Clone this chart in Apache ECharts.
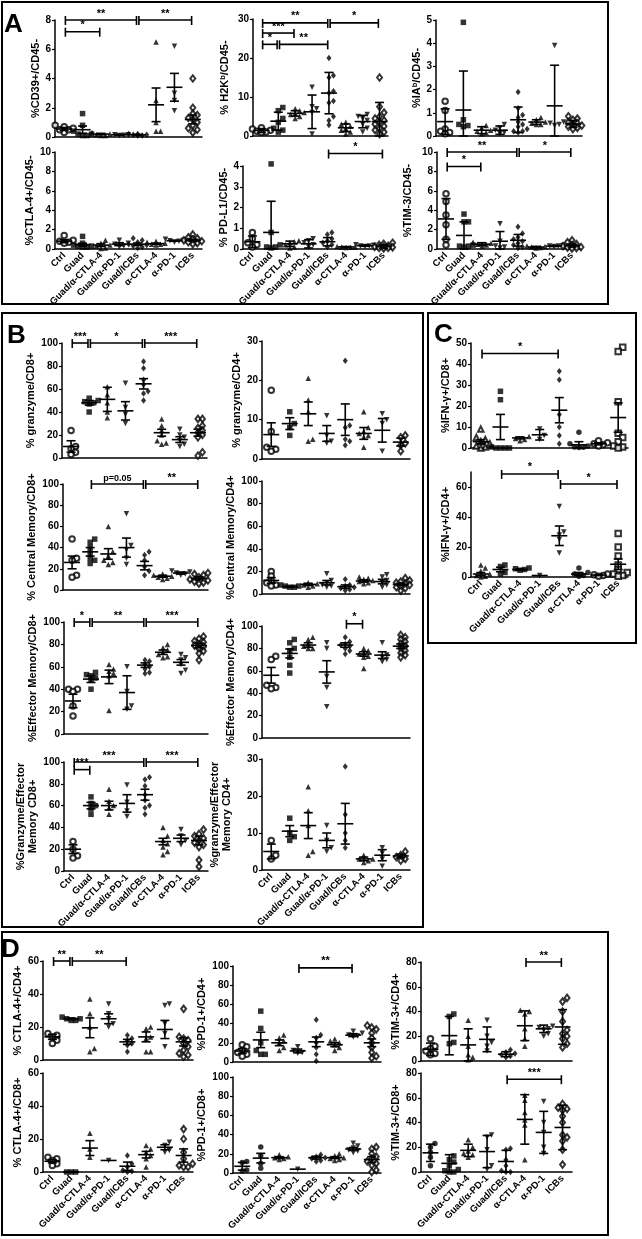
<!DOCTYPE html>
<html lang="en">
<head>
<meta charset="UTF-8" />
<title>Immune profiling</title>
<script src="https://cdn.jsdelivr.net/npm/echarts@6.0.0/dist/echarts.min.js"></script>
<style>html,body{margin:0;background:#fff}</style>
</head>
<body>
<div id="main" style="width:642px;height:1239px"></div>
<script>
var groups = ['Ctrl', 'Guad', 'Guad/α-CTLA-4', 'Guad/α-PD-1', 'Guad/ICBs', 'α-CTLA-4', 'α-PD-1', 'ICBs'];

// ---- panel A ----
var cd39Pts = [[0.3,0.5,0.6,0.7,0.8,0.5],[1.6,0.8,0.4,0.2,0.1,0.1,0.2],[0.3,0.2,0.15,0.1,0.1],[0.15,0.15,0.1,0.12],[0.2,0.15,0.1,0.1,0.15,0.2],[6.5,2.5,1.0,0.4,0.4],[6.2,3.0,2.5,1.8],[4.0,2.0,1.6,1.5,1.3,1.2,1.0,0.8,0.6,0.5,0.3]];
var cd39Mean = [0.55,0.5,0.2,0.15,0.15,2.2,3.4,1.2];
var cd39Err = [0.1,0.25,0.05,0.02,0.03,1.15,0.95,0.3];
var cd39Sig = [[0,4,8,'**'],[0,2,7.2,'*'],[4,7,8,'**']];

var h2kPts = [[2.1,1.8,1.5,1.2,1.0,0.9],[7.3,6.5,4.5,3.5,2.0,1.5,1.0],[7.0,6.5,6.0,5.8,5.5,5.0,4.5],[12.5,7.5,7.0,6.0,0.5],[20,15.5,15,11.5,11,9,8.5,5,4,2.8],[3.5,3.0,2.5,2.0,1.5,1.0,0.5],[5.5,5.0,4.5,4.0,3.0,2.0,1.0],[15,7.5,6,5,4.5,4,3.5,3,2.5,2,1.5,1,0.5]];
var h2kMean = [1.4,3.8,5.8,6.2,11,2.1,3.7,3.7];
var h2kErr = [0.5,2.3,0.7,4.3,5.3,1.0,1.6,4.9];
var h2kSig = [[0,4,29,'**'],[0,2,26.4,'***'],[0,1,23.5,'*'],[1,4,23.5,'**'],[4,7,29,'*']];

var iabPts = [[1.5,1.1,0.3,0.2,0.15,0.1],[4.9,0.7,0.5,0.45,0.4],[0.45,0.35,0.25,0.2,0.15,0.1],[0.5,0.35,0.25,0.15,0.1],[1.9,1.2,0.9,0.8,0.6,0.5,0.4,0.3,0.2,0.2,0.15],[0.8,0.7,0.6,0.55,0.5,0.5],[3.9,0.6,0.55,0.5,0.45],[0.85,0.75,0.7,0.6,0.55,0.5,0.45,0.4,0.35,0.3]];
var iabMean = [0.62,1.12,0.25,0.25,0.7,0.6,1.3,0.52];
var iabErr = [0.55,1.68,0.15,0.18,0.55,0.1,1.75,0.15];

var ctla4Cd45Pts = [[1.4,0.9,0.8,0.7,0.6],[1.3,0.6,0.4,0.3,0.3,0.2,0.2],[0.9,0.6,0.4,0.3,0.1,0.05],[0.9,0.6,0.5,0.3,0.2],[1.1,0.9,0.7,0.5,0.4,0.3,0.2,0.1],[0.8,0.7,0.6,0.5,0.5,0.4],[1.0,0.9,0.85,0.8,0.7],[1.5,1.2,1.1,1.0,0.9,0.8,0.7,0.6,0.5]];
var ctla4Cd45Mean = [0.8,0.45,0.4,0.5,0.5,0.55,0.85,0.9];
var ctla4Cd45Err = [0.15,0.15,0.15,0.15,0.12,0.06,0.05,0.1];

var pdl1Pts = [[0.8,0.5,0.3,0.2,0.1],[4.1,0.8,0.2,0.1,0.1,0.05],[0.4,0.35,0.3,0.2,0.1,0.05],[0.5,0.4,0.3,0.2,0.1],[0.8,0.7,0.5,0.4,0.3,0.2,0.1],[0.12,0.1,0.1,0.08,0.07],[0.2,0.18,0.15,0.15,0.12],[0.3,0.25,0.2,0.15,0.1,0.1,0.08,0.05,0.05,0.03]];
var pdl1Mean = [0.35,0.8,0.25,0.25,0.35,0.1,0.16,0.12];
var pdl1Err = [0.28,1.5,0.13,0.2,0.2,0.02,0.03,0.08];
var pdl1Sig = [[4,7,4.6,'*']];

var tim3Cd45Pts = [[5.7,4.9,3.5,2.5,1.0,0.4],[3.6,2.8,2.8,0.4,0.3,0.3,0.2],[0.7,0.6,0.5,0.4,0.3],[2.6,0.8,0.3,0.2,0.1],[2.3,1.6,1.2,1.0,0.8,0.6,0.4,0.2,0.1],[0.3,0.25,0.2,0.15,0.1],[0.35,0.3,0.3,0.25],[0.9,0.7,0.5,0.4,0.3,0.2,0.15,0.1,0.05]];
var tim3Cd45Mean = [3.1,1.4,0.5,0.8,0.9,0.2,0.3,0.35];
var tim3Cd45Err = [2.1,1.4,0.15,1.0,0.6,0.07,0.05,0.15];
var tim3Cd45Sig = [[0,4,10,'**'],[0,2,8.5,'*'],[4,7,10,'*']];

// ---- panel B ----
var gzmCd8Pts = [[24,10,8,5,3],[52,50,49,48,47,40],[62,55,48,40,35],[65,44,38,30],[84,78,68,64,58,56,50],[34,28,24,20,15,13,12],[25,20,18,15,12,10],[34,34,28,26,24,22,20,18,5,2]];
var gzmCd8Mean = [10,48,51,41,64.5,22,16,22];
var gzmCd8Err = [5,2,10.5,8,4.5,3,2.5,3];
var gzmCd8Sig = [[0,1,100,'***'],[1,4,100,'*'],[4,7,100,'***']];

var gzmCd4Pts = [[17.5,7,3,2.5,2],[12,9,8,6],[20.5,15,12,5,4.5],[11,6,4.5,4],[25,8.5,8,5,4.5,3.5],[12,8,7,6.5,6,5.5,3],[11.5,10,9,2],[6,5.5,4,3.5,2]];
var gzmCd4Mean = [6.2,9,11.5,6.5,10,6.5,7.3,4.3];
var gzmCd4Err = [3,1.5,3,2,4,1.5,3,1];

var cmCd8Pts = [[48,30,28,14,12],[48,45,40,35,30,28,25],[60,36,32,28,26,24],[72,42,38,30,24],[36,33,28,22,18,14],[15,14,13,12,11,10],[18,17,16,15,14],[16,15,14,12,10,9,8,7,6]];
var cmCd8Mean = [26,36,34,40,23,13,16,11];
var cmCd8Err = [6,4,5,9,4,1,1,1.5];
var cmCd8Sig = [[1,4,100,'p=0.05'],[4,7,100,'**']];

var cmCd4Pts = [[20,16,12,10,8,7],[8,7,7,6,6],[10,9,8,7,6],[18,12,10,8,7,6],[13,8,7,6,5,4,3],[15,14,13,12,11,10,9],[17,15,12,10,8,6],[14,12,11,10,9,8,7,6,5,3]];
var cmCd4Mean = [12,6.5,8.5,10,6.5,11.5,11,8.5];
var cmCd4Err = [2.5,0.5,1,2,1.5,1,2,1];

var emCd8Pts = [[40,40,38,25,16],[55,53,52,50,48,40],[62,58,56,54,52,21],[60,38,25,22],[66,65,62,60,58,55,54],[80,77,75,73,71,69,68],[71,68,66,62,57,54],[87,85,83,82,80,79,78,76,74,72,66]];
var emCd8Mean = [29.5,49,51,37,61.5,73,64,79];
var emCd8Err = [6,3,6,15,2,2,2.5,2];
var emCd8Sig = [[0,1,100,'*'],[1,4,100,'**'],[4,7,100,'***']];

var emCd4Pts = [[73,70,47,45,44],[88,85,80,78,72,65,58],[90,88,84,82,80,80],[85,80,55,45,28],[90,86,84,83,82,80,78,75],[80,78,76,75,73,72,62],[85,74,72,70,68],[92,90,88,86,84,82,80,78,76,74,72]];
var emCd4Mean = [56,75.5,83,59,83,75,74,82];
var emCd4Err = [7,4,2,10,2,2,3,2];
var emCd4Sig = [[4,5,102,'*']];

var gemCd8Pts = [[27,20,14,12],[68,62,60,57,52],[75,64,60,58,52],[79,63,55,50],[86,84,78,70,65,60,58,52],[40,32,28,25,22,18,15],[38,32,28,24],[38,34,32,30,28,26,24,22,10,4]];
var gemCd8Mean = [20,60,60,62,70,27,30,28];
var gemCd8Err = [4,3,4,8,5,3,3,4];
var gemCd8Sig = [[0,4,100,'***'],[0,1,93,'***'],[4,7,100,'***']];

var gemCd4Pts = [[8,4,3],[14,10,9,8],[22.5,16,12,5,4],[12,8,6,5],[28,15,10,8,6],[4,3,3,2.5,2],[6,4.5,3,1],[5,4,3.5,3,2.5]];
var gemCd4Mean = [5,10.5,12,8,12.5,3,4,3.8];
var gemCd4Err = [2,1.5,3.5,2,5.5,0.5,1.5,0.5];

// ---- panel C ----
var ifnCd8Pts = [[9,5,4,3,2,1,0.5,0],[27,23,0.5,0,0,0,0],[5.5,4.5,4,3.5],[9,6,4],[36.5,32.5,16,10,6,2],[7.5,2,1,0.5,0.3,0.2],[3.5,2.5,2,1.5,1],[48,46,22,7,5,3,1,0.5,0]];
var ifnCd8Mean = [3,10,4.8,6.3,18,1.5,2,14.5];
var ifnCd8Err = [1,6,0.5,2.5,6,1.5,0.5,7];
var ifnCd8Sig = [[0,4,45,'*']];

var ifnCd4Pts = [[8,6,4,2,1,0.5,0],[8,7,3,2],[6,5.5,5,4.5],[1],[47,30,28,25,16],[6,3,2,1,0.5],[2,1.5,1,0.5],[29,20,14,8,5,3,2,1,0.5]];
var ifnCd4Mean = [2,5,5,1,27.5,2,1.3,8.5];
var ifnCd4Err = [1,1.5,0.5,0,6.5,1,0.3,3.5];
var ifnCd4Sig = [[1,4,68.7,'*'],[4,7,62,'*']];

// ---- panel D ----
var ctla4Cd4Pts = [[16,15,14,12,10],[26,25,25,24,24],[37,28,20,7,5],[34,28,25,22,20],[15,13,12,10,9,5],[20,19,14,13,5,5],[34,33,22,16,8],[31,14,13,12,10,8,6,4,3,2]];
var ctla4Cd4Mean = [14,25,19.5,25,11,14,18.5,11];
var ctla4Cd4Err = [1.5,0.5,6,3,1.5,3,5.5,2.5];
var ctla4Cd4Sig = [[0,1,60,'**'],[1,4,60,'**']];

var pd1Cd4Pts = [[18,16,12,10,8,6],[53,35,20,12,8,8],[28,25,22,20,15,12],[16,12,10,9],[44,28,25,20,15,8,1],[24,22,20,18,15,12],[32,30,28,27,26],[38,36,34,30,25,20,15,10,6,4]];
var pd1Cd4Mean = [11.5,23,20,11.5,21,18,28,20];
var pd1Cd4Err = [2.5,8,3,2,5,2,1.5,4];
var pd1Cd4Sig = [[3,6,98,'**']];

var tim3Cd4Pts = [[18,12,10,8,6,5],[38,36,15,14],[33,20,12,5,3,1],[33,20,15,12,8],[9,7,6,5,4,3],[41,40,38,26,18,12],[28,27,26,25,22,20],[51,48,40,32,25,22,20,18,14,11]];
var tim3Cd4Mean = [9.5,20.5,13,17.5,5.5,28.5,26,27.5];
var tim3Cd4Err = [5,15.5,13,10,2,12,3,14];
var tim3Cd4Sig = [[5,7,80,'**']];

var ctla4Cd8Pts = [[9,8,7,5,4],[0,0,0],[23.5,14,9],[7],[10,5,3,1,0.5,0],[16,14,12,10,8,3],[18,16,13,12],[26,20,12,8,5,4,3,3]];
var ctla4Cd8Mean = [6.5,0,14.5,7,3.5,10.5,15,10];
var ctla4Cd8Err = [1,0,4.5,0,2.5,2,1.5,4];

var pd1Cd8Pts = [[12,11,3,2],[27,18,10,5],[19,17,16,15,14],[4],[19,17,16,15,13,12],[20,18,16,15,14,13],[31,28,26,24,23,21],[27,25,20,17,15,12,10,8,3,1]];
var pd1Cd8Mean = [7,15.5,16,4,16,16,25,14];
var pd1Cd8Err = [4,5,1,0,1.5,1,1.5,3];

var tim3Cd8Pts = [[23,20,16,12,5],[13,10,8,5,2,1,0,0],[26,20,17,15,14,12],[30,28,18,5,2],[19,18,10,5,1,0,0],[62,58,48,42,38,10],[57,40,32,20,15],[55,52,51,50,45,40,30,28,25,18,6]];
var tim3Cd8Mean = [15.5,7,17.5,16.5,8.5,42.5,32,36];
var tim3Cd8Err = [7,7,5,13,9,20,17,18];
var tim3Cd8Sig = [[4,7,75,'***']];

// marker per group (Prism-like)
var marks = ['emptyCircle', 'rect', 'triangle', 'triangleDown', 'diamond', 'triangle', 'triangleDown', 'emptyDiamond'];

// layout: box = [left, top, right, zeroLine], nx = centre x of the y title
var plots = [
  {pts: cd39Pts, mean: cd39Mean, err: cd39Err, sig: cd39Sig, name: '%CD39+/CD45-', max: 8, step: 2, box: [55, 20, 202, 137], nx: 37},
  {pts: h2kPts, mean: h2kMean, err: h2kErr, sig: h2kSig, name: '% H2K{s|b}/CD45-', max: 30, step: 10, box: [253, 19, 388, 136], nx: 225},
  {pts: iabPts, mean: iabMean, err: iabErr, name: '%IA{s|b}/CD45-', max: 5, step: 1, box: [436, 20, 582, 136], nx: 417},
  {pts: ctla4Cd45Pts, mean: ctla4Cd45Mean, err: ctla4Cd45Err, name: '%CTLA-4+/CD45-', max: 10, step: 2, box: [55, 152, 202, 249], nx: 32, xlab: true},
  {pts: pdl1Pts, mean: pdl1Mean, err: pdl1Err, sig: pdl1Sig, name: '% PD-L1/CD45-', max: 4, step: 1, box: [243, 166, 393, 249], nx: 225, xlab: true},
  {pts: tim3Cd45Pts, mean: tim3Cd45Mean, err: tim3Cd45Err, sig: tim3Cd45Sig, name: '%TIM-3/CD45-', max: 10, step: 2, box: [437, 152, 581, 249], nx: 408, xlab: true},

  {pts: gzmCd8Pts, mean: gzmCd8Mean, err: gzmCd8Err, sig: gzmCd8Sig, name: '% granzyme/CD8+', max: 100, step: 20, box: [62, 343, 207, 458], nx: 35},
  {pts: gzmCd4Pts, mean: gzmCd4Mean, err: gzmCd4Err, name: '% granzyme/CD4+', max: 30, step: 10, box: [262, 341, 410, 459], nx: 238},
  {pts: cmCd8Pts, mean: cmCd8Mean, err: cmCd8Err, sig: cmCd8Sig, name: '% Central Memory/CD8+', max: 100, step: 20, box: [63, 484, 208, 590], nx: 38},
  {pts: cmCd4Pts, mean: cmCd4Mean, err: cmCd4Err, name: '%Central Memory/CD4+', max: 100, step: 20, box: [262, 481, 410, 594], nx: 238},
  {pts: emCd8Pts, mean: emCd8Mean, err: emCd8Err, sig: emCd8Sig, name: '%Effector Memory/CD8+', max: 100, step: 20, box: [64, 622, 208, 734], nx: 38},
  {pts: emCd4Pts, mean: emCd4Mean, err: emCd4Err, sig: emCd4Sig, name: '%Effector Memory/CD4+', max: 100, step: 20, box: [262, 626, 410, 738], nx: 235},
  {pts: gemCd8Pts, mean: gemCd8Mean, err: gemCd8Err, sig: gemCd8Sig, name: '%Granzyme/Effector\nMemory CD8+', max: 100, step: 20, box: [64, 762, 208, 871], nx: 29, lines: 2, xlab: true},
  {pts: gemCd4Pts, mean: gemCd4Mean, err: gemCd4Err, name: '%granzyme/Effector\nMemory CD4+', max: 30, step: 10, box: [262, 759, 410, 870], nx: 221, lines: 2, xlab: true},

  {pts: ifnCd8Pts, mean: ifnCd8Mean, err: ifnCd8Err, sig: ifnCd8Sig, name: '%IFN-γ+/CD8+', max: 50, step: 10, box: [471, 343, 628, 448], nx: 453,
    marks: ['emptyTriangle', 'rect', 'triangle', 'triangleDown', 'diamond', 'circle', 'emptyCircle', 'emptyRect']},
  {pts: ifnCd4Pts, mean: ifnCd4Mean, err: ifnCd4Err, sig: ifnCd4Sig, name: '%IFN-γ+/CD4+', max: 70, step: 20, box: [471, 472, 628, 577], nx: 453, xlab: true,
    marks: ['triangle', 'rect', 'rect', 'triangleDown', 'triangleDown', 'circle', 'emptyCircle', 'emptyRect']},

  {pts: ctla4Cd4Pts, mean: ctla4Cd4Mean, err: ctla4Cd4Err, sig: ctla4Cd4Sig, name: '% CTLA-4+/CD4+', max: 60, step: 20, box: [43, 961, 193, 1060], nx: 19},
  {pts: pd1Cd4Pts, mean: pd1Cd4Mean, err: pd1Cd4Err, sig: pd1Cd4Sig, name: '%PD-1+/CD4+', max: 100, step: 20, box: [233, 966, 381, 1062], nx: 208},
  {pts: tim3Cd4Pts, mean: tim3Cd4Mean, err: tim3Cd4Err, sig: tim3Cd4Sig, name: '%TIM-3+/CD4+', max: 80, step: 20, box: [421, 962, 572, 1061], nx: 398},
  {pts: ctla4Cd8Pts, mean: ctla4Cd8Mean, err: ctla4Cd8Err, name: '% CTLA-4+/CD8+', max: 60, step: 20, box: [43, 1073, 193, 1172], nx: 19, xlab: true},
  {pts: pd1Cd8Pts, mean: pd1Cd8Mean, err: pd1Cd8Err, name: '%PD-1+/CD8+', max: 100, step: 20, box: [233, 1077, 381, 1173], nx: 208, xlab: true,
    marks: ['circle', 'circle', 'triangle', 'triangleDown', 'diamond', 'triangle', 'triangleDown', 'emptyDiamond']},
  {pts: tim3Cd8Pts, mean: tim3Cd8Mean, err: tim3Cd8Err, sig: tim3Cd8Sig, name: '%TIM-3+/CD8+', max: 80, step: 20, box: [421, 1073, 572, 1172], nx: 398, xlab: true,
    marks: ['circle', 'rect', 'triangle', 'triangleDown', 'diamond', 'triangle', 'triangleDown', 'emptyDiamond']}
];

var FONT = 'Liberation Sans';

// beeswarm-style sideways offsets for dots that would overlap (pixel layout only)
function spread(vals, max, hPx) {
  var d = 5;
  var py = vals.map(function (v) { return v / max * hPx; });
  var order = vals.map(function (v, i) { return i; }).sort(function (a, b) { return vals[a] - vals[b]; });
  var offs = vals.map(function () { return 0; });
  var placed = [];
  var cands = [0, 4.5, -4.5, 9, -9];
  order.forEach(function (j) {
    var best = 0, bestHit = Infinity;
    for (var c = 0; c < cands.length; c++) {
      var hit = 0;
      placed.forEach(function (q) {
        var dx = cands[c] - offs[q], dy = py[j] - py[q];
        if (dx * dx + dy * dy < d * d * 0.8) hit++;
      });
      if (hit < bestHit) { bestHit = hit; best = cands[c]; }
      if (hit === 0) break;
    }
    offs[j] = best;
    placed.push(j);
  });
  return offs;
}

var grid = [], xAxis = [], yAxis = [], series = [];
var black = '#000';

plots.forEach(function (p, k) {
  var b = p.box;
  var h = b[3] - b[1];
  grid.push({left: b[0], top: b[1], width: b[2] - b[0], height: h, containLabel: false, outerBoundsMode: 'none'});
  xAxis.push({
    type: 'category', gridIndex: k, data: groups,
    axisLine: {lineStyle: {color: black, width: 1.5}},
    axisTick: {alignWithLabel: true, length: 3, lineStyle: {color: black, width: 1.2}},
    axisLabel: p.xlab ? {show: true, interval: 0, rotate: 45, fontSize: 9.5, fontWeight: 'bold', fontFamily: FONT, color: black, margin: 5} : {show: false},
    splitLine: {show: false}
  });
  var ticks = [];
  for (var v = 0; v <= p.max + 1e-9; v += p.step) ticks.push(v);
  var lines = p.lines || 1;
  yAxis.push({
    type: 'value', gridIndex: k, min: 0, max: p.max, interval: p.step,
    name: p.name, nameLocation: 'middle', nameGap: b[0] - p.nx - lines * 6,
    nameTextStyle: {fontSize: 11, fontWeight: 'bold', fontFamily: FONT, color: black, lineHeight: 12,
      rich: {s: {fontSize: 7.5, fontWeight: 'bold', fontFamily: FONT, color: black, verticalAlign: 'top', lineHeight: 12}}},
    axisLine: {show: true, lineStyle: {color: black, width: 1.5}},
    axisTick: {show: true, length: 3, lineStyle: {color: black, width: 1.2}, customValues: ticks},
    axisLabel: {fontSize: 10, fontWeight: 'bold', fontFamily: FONT, color: black, margin: 4, customValues: ticks},
    splitLine: {show: false}
  });

  // points
  var mk = p.marks || marks;
  var pts = [];
  p.pts.forEach(function (vals, g) {
    var offs = spread(vals, p.max, h);
    var sym = mk[g];
    var rot = 0;
    if (sym === 'triangleDown') { sym = 'triangle'; rot = 180; }
    vals.forEach(function (v, i) {
      pts.push({value: [g, v], symbol: sym, symbolRotate: rot, symbolOffset: [offs[i], 0],
        symbolSize: sym.indexOf('iamond') >= 0 ? [5, 6.5] : 5.5});
    });
  });
  series.push({type: 'scatter', xAxisIndex: k, yAxisIndex: k, data: pts, clip: false, z: 3,
    itemStyle: {color: black}, emphasis: {disabled: true}, silent: true});

  // mean +/- error
  series.push({
    type: 'custom', xAxisIndex: k, yAxisIndex: k, z: 4, silent: true, clip: false,
    data: p.mean.map(function (m, g) { return [g, m, p.err[g]]; }),
    renderItem: function (params, api) {
      var g = api.value(0), m = api.value(1), e = api.value(2);
      var c = api.coord([g, m]);
      var hi = api.coord([g, m + e]);
      var lo = api.coord([g, Math.max(0, m - e)]);
      var st = {stroke: black, lineWidth: 1.6};
      var ch = [{type: 'line', shape: {x1: c[0] - 8, y1: c[1], x2: c[0] + 8, y2: c[1]}, style: st}];
      if (e > 0) {
        ch.push({type: 'line', shape: {x1: c[0], y1: hi[1], x2: c[0], y2: lo[1]}, style: st});
        ch.push({type: 'line', shape: {x1: c[0] - 4.5, y1: hi[1], x2: c[0] + 4.5, y2: hi[1]}, style: st});
        ch.push({type: 'line', shape: {x1: c[0] - 4.5, y1: lo[1], x2: c[0] + 4.5, y2: lo[1]}, style: st});
      }
      return {type: 'group', children: ch};
    }
  });

  // significance brackets
  if (p.sig) {
    var sig = p.sig;
    series.push({
      type: 'custom', xAxisIndex: k, yAxisIndex: k, z: 5, silent: true, clip: false,
      data: sig.map(function (s) { return [s[0], s[2]]; }),
      renderItem: function (params, api) {
        var s = sig[params.dataIndex];
        var a = api.coord([s[0], s[2]]);
        var c = api.coord([s[1], s[2]]);
        var x1 = a[0] + 1.2, x2 = c[0] - 1.2, y = a[1];
        var st = {stroke: black, lineWidth: 1.6};
        return {type: 'group', children: [
          {type: 'line', shape: {x1: x1, y1: y, x2: x2, y2: y}, style: st},
          {type: 'line', shape: {x1: x1, y1: y - 4, x2: x1, y2: y + 5}, style: st},
          {type: 'line', shape: {x1: x2, y1: y - 4, x2: x2, y2: y + 5}, style: st},
          {type: 'text', style: {text: s[3], x: (x1 + x2) / 2, y: y - 1, align: 'center', verticalAlign: 'bottom',
            font: (s[3].length > 3 ? 'bold 9px ' : 'bold 11px ') + FONT, fill: black}}
        ]};
      }
    });
  }
});

function box(x, y, w, hh) {
  return {type: 'rect', shape: {x: x, y: y, width: w, height: hh}, style: {fill: 'none', stroke: black, lineWidth: 2}, silent: true};
}
function tag(t, x, y) {
  return {type: 'text', x: x, y: y, style: {text: t, font: 'bold 26px ' + FONT, fill: black}, silent: true};
}

var chart = echarts.init(document.getElementById('main'), null, {renderer: 'canvas'});
chart.setOption({
  animation: false,
  backgroundColor: '#fff',
  textStyle: {fontFamily: FONT},
  grid: grid, xAxis: xAxis, yAxis: yAxis, series: series,
  graphic: [
    box(2, 2, 606, 302), box(2, 313, 421, 614), box(428, 313, 208, 330), box(2, 932, 606, 303),
    tag('A', 4, 12), tag('B', 7, 323), tag('C', 434, 322), tag('D', 1, 937)
  ]
});
</script>
</body>
</html>
